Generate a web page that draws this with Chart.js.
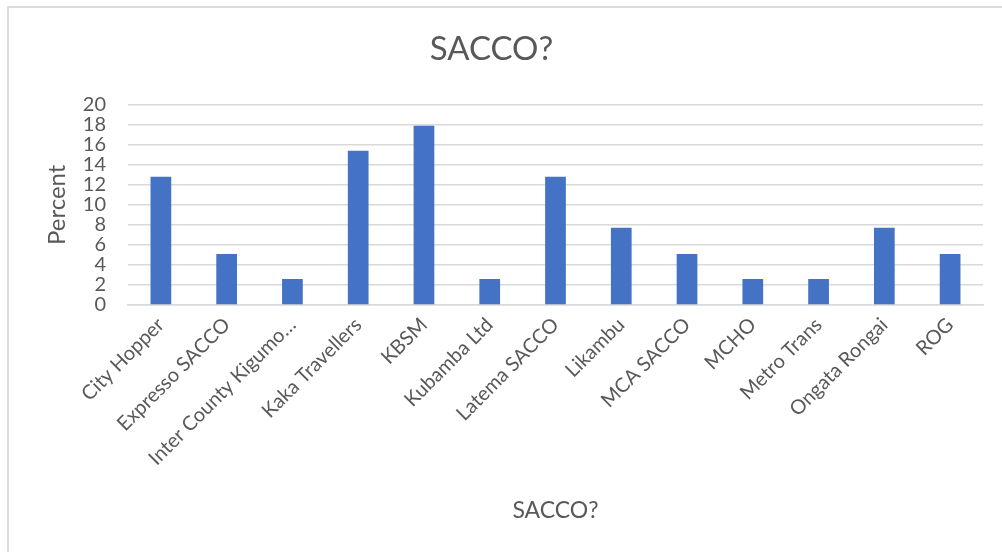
<!DOCTYPE html>
<html lang="en">
<head>
    <meta charset="UTF-8">
    <title>SACCO?</title>
    <script src="https://cdn.jsdelivr.net/npm/chart.js"></script>
    <style>
        body { margin: 0; background: #fff; }
        .wrap { position: relative; width: 1002px; height: 552px; overflow: hidden; }
        .frame { position: absolute; left: 7px; top: 6px; width: 1100px; height: 700px;
                 border-left: 2px solid #dcdcdc; border-top: 2px solid #dcdcdc; pointer-events: none; }
    </style>
</head>
<body>
    <div class="wrap">
        <canvas id="grafico" width="1002" height="552"></canvas>
        <div class="frame"></div>
    </div>
<script>
    // dados
    const saccos = ['City Hopper', 'Expresso SACCO', 'Inter County Kigumo…', 'Kaka Travellers', 'KBSM',
        'Kubamba Ltd', 'Latema SACCO', 'Likambu', 'MCA SACCO', 'MCHO', 'Metro Trans', 'Ongata Rongai', 'ROG'];
    const percent = [12.8, 5.1, 2.6, 15.4, 17.9, 2.6, 12.8, 7.7, 5.1, 2.6, 2.6, 7.7, 5.1];
    const yTicks = [0, 2, 4, 6, 8, 10, 12, 14, 16, 18, 20];

    const cinza = '#595959';
    const fonte = 'Lato, "Open Sans", sans-serif';

    const ctx = document.getElementById('grafico');

    new Chart(ctx, {
        type: 'bar',
        data: {
            labels: saccos,
            datasets: [{
                label: 'Percent',
                data: percent,
                backgroundColor: '#4472c4',
                borderWidth: 0,
                barPercentage: 0.315,
                categoryPercentage: 1
            }]
        },
        options: {
            responsive: false,
            animation: false,
            layout: { padding: { left: 0, right: 19, top: 0, bottom: 0 } },
            plugins: {
                legend: { display: false },
                tooltip: { enabled: false },
                title: {
                    display: true,
                    text: 'SACCO?',
                    color: cinza,
                    font: { family: fonte, size: 33, weight: 'normal' },
                    padding: { top: 30, bottom: 35 }
                }
            },
            scales: {
                x: {
                    grid: { display: false, drawTicks: false },
                    border: { display: true, color: '#d9d9d9', width: 1.5 },
                    ticks: {
                        autoSkip: false,
                        minRotation: 45,
                        maxRotation: 45,
                        padding: 8,
                        color: cinza,
                        font: { family: fonte, size: 20 }
                    },
                    title: {
                        display: true,
                        text: 'SACCO?',
                        color: cinza,
                        font: { family: fonte, size: 23 },
                        padding: { top: 0, bottom: 28 }
                    },
                    afterFit: function (s) { s.height = 247; }
                },
                y: {
                    min: 0,
                    max: 20,
                    afterBuildTicks: function (s) { s.ticks = yTicks.map(v => ({ value: v })); },
                    grid: { color: '#d9d9d9', lineWidth: 1.5, drawTicks: false },
                    border: { display: false },
                    ticks: {
                        autoSkip: false,
                        padding: 22,
                        color: cinza,
                        font: { family: fonte, size: 20, lineHeight: 1 }
                    },
                    title: {
                        display: true,
                        text: 'Percent',
                        color: cinza,
                        font: { family: fonte, size: 24 },
                        padding: { top: 43, bottom: 0 }
                    },
                    afterFit: function (s) { s.width = 128; }
                }
            }
        },
        plugins: [{
            id: 'fundo',
            beforeDraw: function (chart) {
                const c = chart.ctx;
                c.save();
                c.fillStyle = '#fff';
                c.fillRect(0, 0, chart.width, chart.height);
                c.restore();
            }
        }]
    });
</script>
</body>
</html>
